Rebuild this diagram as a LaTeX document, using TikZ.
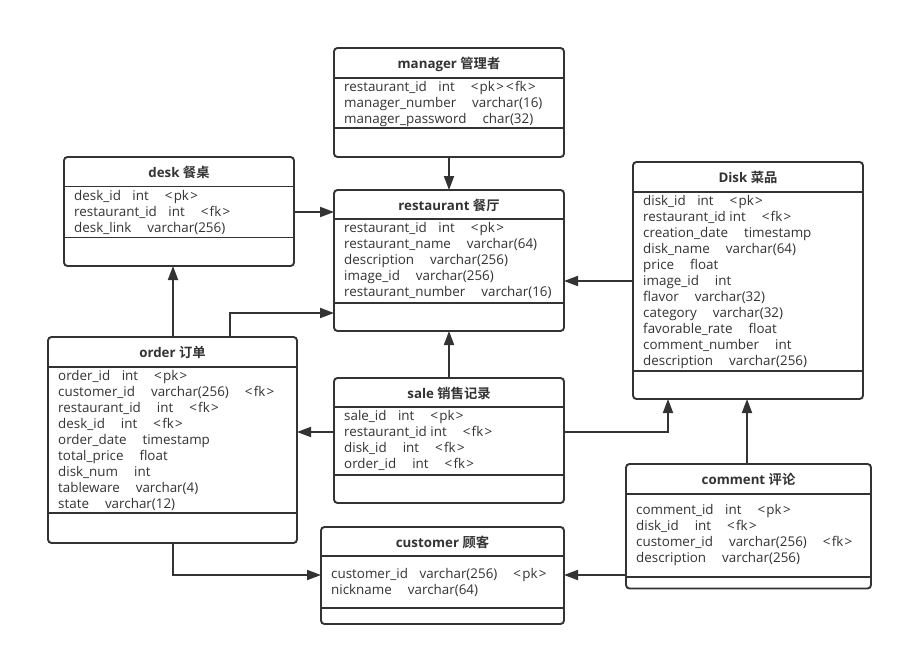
\documentclass[tikz,border=0pt]{standalone}
\usepackage{fontspec}
\setmainfont{Open Sans}
\newfontfamily\cjk{Noto Sans CJK SC}[BoldFont={Noto Sans CJK SC Bold}]
\usetikzlibrary{arrows.meta}
\definecolor{ink}{HTML}{333333}
\newcommand\gapS{\hspace{11.5pt}}
\newcommand\gapL{\hspace{16pt}}
\newcommand\kpk{<\kern1.3pt pk\kern1.3pt>}
\newcommand\kfk{<\kern1.3pt fk\kern1.3pt>}
\tikzset{
  tbl/.style={draw=ink, line width=1.9pt, rounded corners=3.5pt, anchor=north west,
    inner sep=0pt, outer sep=0pt, shape=rectangle},
  divl/.style={draw=ink, line width=1.9pt},
  ttl/.style={anchor=base, inner sep=0pt, text=ink, font=\fontsize{13.3}{16}\selectfont\bfseries},
  fld/.style={anchor=base west, inner sep=0pt, text=ink, font=\fontsize{13.4}{16}\selectfont},
  conn/.style={draw=ink, line width=1.9pt, -{Triangle[length=14pt,width=10pt]}},
}
% name, L, T, R, B, title divider, field divider, title
\newcommand\tbox[8]{%
  \node[tbl, minimum width={#4pt-#2pt}, minimum height={#5pt-#3pt}] (#1) at (#2,#3) {};
  \draw[divl] (#1.west |- 0,#6) -- (#1.east |- 0,#6);
  \draw[divl] (#1.west |- 0,#7) -- (#1.east |- 0,#7);
  \node[ttl] (#1-t) at ({(#2+#4)/2},#3+20.5) {#8};
}
% name, L, first baseline, rows
\newcommand\trows[4]{%
  \foreach \t [count=\i] in {#4}{\node[fld] (#1-\i) at (#2+10,#3+16*\i-16) {\t};}%
}
\begin{document}
\begin{tikzpicture}[x=1pt,y=-1pt]
\useasboundingbox[fill=white] (0,0) rectangle (902,656);

\tbox{manager}{334}{48}{564}{157}{78}{128}{manager {\cjk 管理者}}
\trows{manager}{334}{91.5}{restaurant\_id\gapS int\gapL \kpk\,\kfk, manager\_number\gapL varchar(16), manager\_password\gapL char(32)}

\tbox{desk}{64}{157}{294}{266}{186.5}{237.5}{desk {\cjk 餐桌}}
\trows{desk}{64}{200}{desk\_id\gapS int\gapL \kpk, restaurant\_id\gapS int\gapL \kfk, desk\_link\gapL varchar(256)}

\tbox{restaurant}{334}{190}{564}{331}{219.3}{302.7}{restaurant {\cjk 餐厅}}
\trows{restaurant}{334}{232.8}{restaurant\_id\gapS int\gapL \kpk, restaurant\_name\gapL varchar(64), description\gapL varchar(256), image\_id\gapL varchar(256), restaurant\_number\gapL varchar(16)}

\tbox{Disk}{633}{162}{863}{399}{191.7}{370.7}{Disk {\cjk 菜品}}
\trows{Disk}{633}{205.3}{disk\_id\gapS int\gapL \kpk, restaurant\_id int\gapL \kfk, creation\_date\gapL timestamp, disk\_name\gapL varchar(64), price\gapL float, image\_id\gapL int, flavor\gapL varchar(32), category\gapL varchar(32), favorable\_rate\gapL float, comment\_number\gapL int, description\gapL varchar(256)}

\tbox{order}{48}{337}{297}{543}{366.7}{513.3}{order {\cjk 订单}}
\trows{order}{48}{380.2}{order\_id\gapS int\gapL \kpk, customer\_id\gapL varchar(256)\gapL \kfk, restaurant\_id\gapL int\gapL \kfk, desk\_id\gapL int\gapL \kfk, order\_date\gapL timestamp, total\_price\gapL float, disk\_num\gapL int, tableware\gapL varchar(4), state\gapL varchar(12)}

\tbox{sale}{334}{378}{564}{503}{407.3}{475}{sale {\cjk 销售记录}}
\trows{sale}{334}{420.8}{sale\_id\gapS int\gapL \kpk, restaurant\_id int\gapL \kfk, disk\_id\gapL int\gapL \kfk, order\_id\gapL int\gapL \kfk}

\tbox{comment}{626}{464}{871}{588.5}{494}{577.3}{comment {\cjk 评论}}
\trows{comment}{626}{514.3}{comment\_id\gapS int\gapL \kpk, disk\_id\gapL int\gapL \kfk, customer\_id\gapL varchar(256)\gapL \kfk, description\gapL varchar(256)}

\tbox{customer}{321}{527}{564}{624}{556}{607.7}{customer {\cjk 顾客}}
\trows{customer}{321}{578.3}{customer\_id\gapS varchar(256)\gapL \kpk, nickname\gapL varchar(64)}

% connectors
\draw[conn] (manager.south) -- (restaurant.north);
\draw[conn] (desk.east |- 0,212) -- (restaurant.west |- 0,212);
\draw[conn] (order.north -| 173,0) -- (desk.south -| 173,0);
\draw[conn] (order.north -| 230,0) |- (restaurant.west |- 0,313);
\draw[conn] (sale.north) -- (restaurant.south);
\draw[conn] (Disk.west |- 0,281) -- (restaurant.east |- 0,281);
\draw[conn] (sale.west |- 0,432) -- (order.east |- 0,432);
\draw[conn] (sale.east |- 0,432) -| (Disk.south -| 668,0);
\draw[conn] (comment.north -| 747,0) -- (Disk.south -| 747,0);
\draw[conn] (order.south -| 173,0) |- (customer.west |- 0,575);
\draw[conn] (comment.west |- 0,575) -- (customer.east |- 0,575);
\end{tikzpicture}
\end{document}
